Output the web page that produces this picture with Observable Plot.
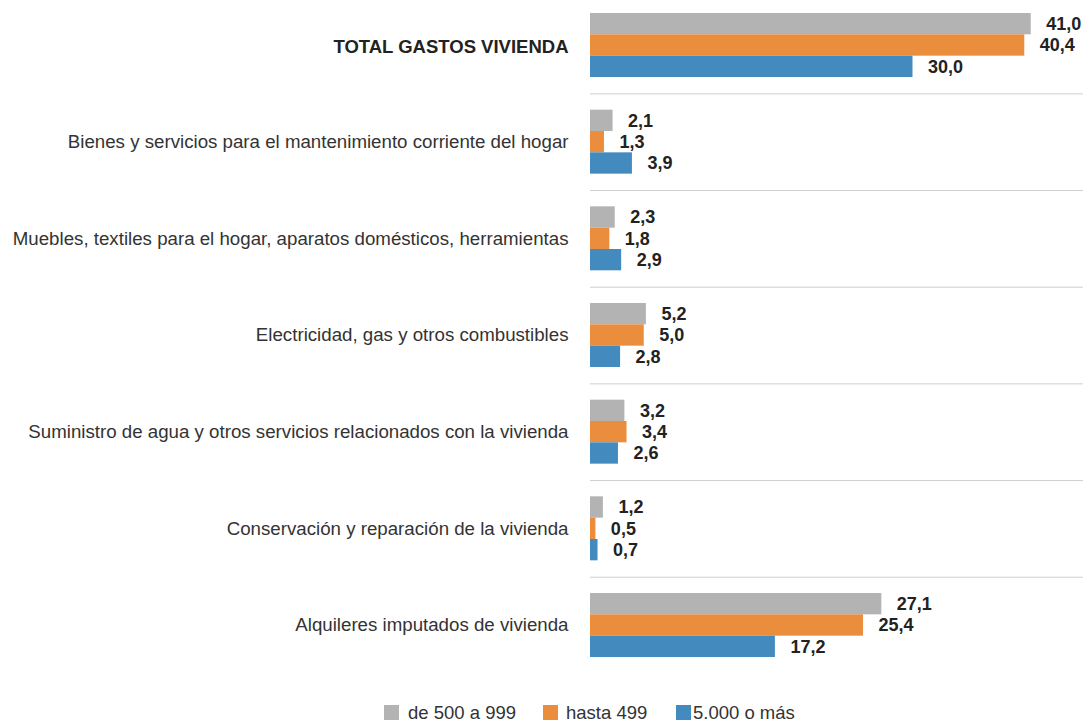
<!DOCTYPE html>
<html>
<head>
<meta charset="utf-8">
<script src="https://cdn.jsdelivr.net/npm/d3@7"></script>
<script src="https://cdn.jsdelivr.net/npm/@observablehq/plot@0.6"></script>
<style>
  html, body { margin: 0; padding: 0; background: #fff; }
  body { width: 1086px; height: 724px; overflow: hidden; font-family: "Liberation Sans", Arial, Helvetica, sans-serif; }
  #legend { position: relative; height: 28px; font-size: 18.5px; color: #333; }
  #legend .item { position: absolute; top: 6px; display: flex; align-items: center; white-space: nowrap; line-height: 21px; }
  #legend .sw { width: 15px; height: 15px; display: inline-block; }
</style>
</head>
<body>
<div id="chart"></div>
<div id="legend"></div>
<script>
const categorias = [
  "TOTAL GASTOS VIVIENDA",
  "Bienes y servicios para el mantenimiento corriente del hogar",
  "Muebles, textiles para el hogar, aparatos domésticos, herramientas",
  "Electricidad, gas y otros combustibles",
  "Suministro de agua y otros servicios relacionados con la vivienda",
  "Conservación y reparación de la vivienda",
  "Alquileres imputados de vivienda"
];
const series = ["de 500 a 999", "hasta 499", "5.000 o más"];
const colores = ["#b3b3b3", "#ea8e3e", "#438bbf"];
const de500a999 = [41.0, 2.1, 2.3, 5.2, 3.2, 1.2, 27.1];
const hasta499  = [40.4, 1.3, 1.8, 5.0, 3.4, 0.5, 25.4];
const mas5000   = [30.0, 3.9, 2.9, 2.8, 2.6, 0.7, 17.2];

const valores = [de500a999, hasta499, mas5000];
const data = [];
categorias.forEach((c, i) => {
  series.forEach((s, j) => data.push({categoria: c, serie: s, valor: valores[j][i]}));
});
const fmt = v => v.toFixed(1).replace(".", ",");

const font = "Liberation Sans, Arial, Helvetica, sans-serif";
const chart = Plot.plot({
  width: 1086,
  height: 696,
  marginLeft: 590,
  marginRight: 4,
  marginTop: 13,
  marginBottom: 39,
  style: {fontFamily: font, background: "#fff"},
  x: {domain: [0, 45.77], axis: null},
  y: {domain: series, padding: 0, round: false, axis: null},
  fy: {domain: categorias, paddingInner: 0.338, paddingOuter: 0, round: false, axis: null},
  color: {domain: series, range: colores},
  marks: [
    Plot.frame({anchor: "top", dy: -16.3, stroke: "#cfcfcf", strokeWidth: 1}),
    Plot.barX(data, {fy: "categoria", y: "serie", x: "valor", fill: "serie"}),
    Plot.text(data, {fy: "categoria", y: "serie", x: "valor", text: d => fmt(d.valor),
      dx: 15, textAnchor: "start", fontWeight: "bold", fontSize: 18, fill: "#222"}),
    Plot.text(categorias.slice(0, 1), {fy: d => d, text: d => d, frameAnchor: "left",
      dx: -22, dy: 2, textAnchor: "end", fontWeight: "bold", fontSize: 18.5, fill: "#222"}),
    Plot.text(categorias.slice(1), {fy: d => d, text: d => d, frameAnchor: "left",
      dx: -22, textAnchor: "end", fontSize: 18.7, fill: "#333"})
  ]
});
document.getElementById("chart").appendChild(chart);

const legend = document.getElementById("legend");
const lefts = [384, 543, 676];
const gaps = [9, 8, 2];
series.forEach((s, j) => {
  const item = document.createElement("div");
  item.className = "item";
  item.style.left = lefts[j] + "px";
  const sw = document.createElement("span");
  sw.className = "sw";
  sw.style.background = colores[j];
  sw.style.marginRight = gaps[j] + "px";
  const t = document.createElement("span");
  t.textContent = s;
  item.appendChild(sw);
  item.appendChild(t);
  legend.appendChild(item);
});
</script>
</body>
</html>
